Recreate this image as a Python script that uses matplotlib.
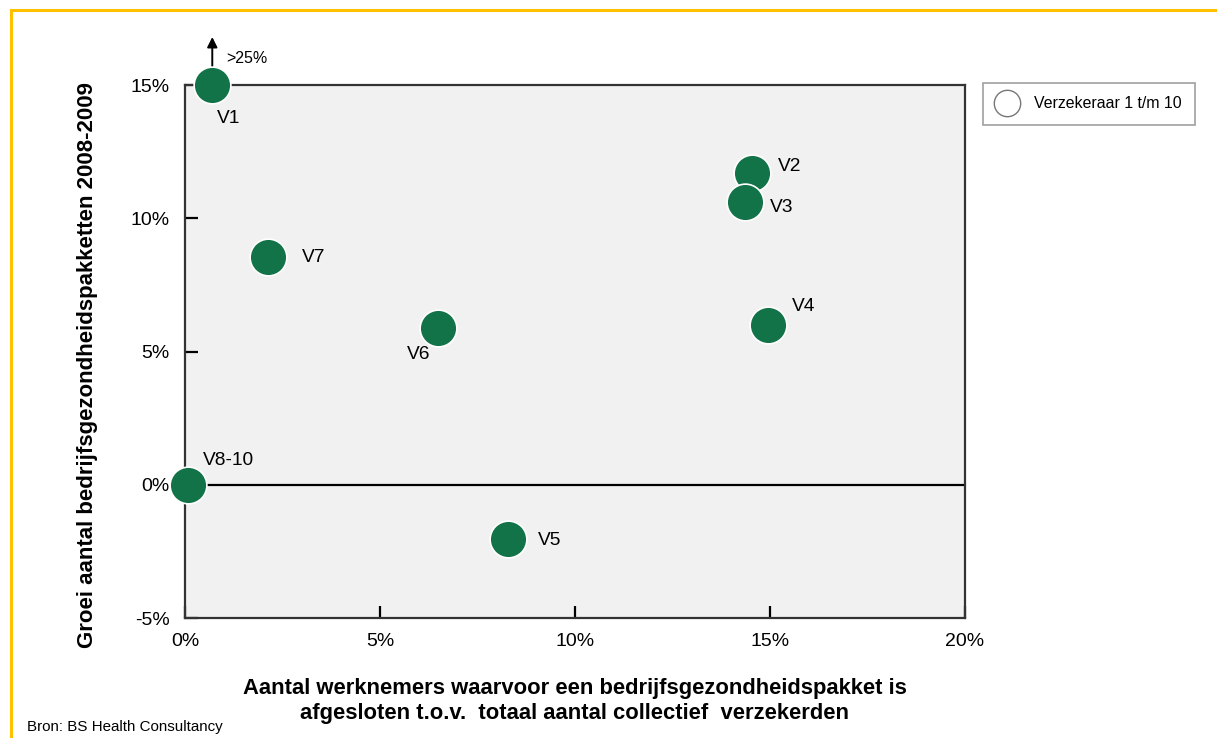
import matplotlib
matplotlib.use('Agg')
import matplotlib.pyplot as plt
from matplotlib.lines import Line2D
from matplotlib.ticker import FuncFormatter

plt.rcParams['font.family'] = ['Liberation Sans', 'DejaVu Sans']

# aandeel werknemers met pakket (%) en groei 2008-2009 (%)
labels = ['V1', 'V2', 'V3', 'V4', 'V5', 'V6', 'V7', 'V8-10']
aandeel = [0.7, 14.55, 14.35, 14.95, 8.28, 6.5, 2.13, 0.08]
groei = [15.0, 11.7, 10.6, 6.0, -2.05, 5.9, 8.55, 0.0]

# label offsets (px) t.o.v. het punt, plus uitlijning
offsets = {
    'V1': (16, -33, 'center'),
    'V2': (26, 6, 'left'),
    'V3': (25, -5, 'left'),
    'V4': (24, 18, 'left'),
    'V5': (30, -1, 'left'),
    'V6': (-8, -27, 'right'),
    'V7': (34, -1, 'left'),
    'V8-10': (15, 24, 'left'),
}

groen = '#137348'

fig = plt.figure(figsize=(12.17, 7.38), dpi=100)
ax = fig.add_axes([0.1520, 0.1626, 0.6409, 0.7222])
ax.set_facecolor('#f1f1f1')

ax.axhline(0, color='black', lw=1.6, zorder=1)
ax.scatter(aandeel, groei, s=700, color=groen, edgecolor='white',
           linewidth=1.2, zorder=3, clip_on=False)

px = 0.72  # pixels -> points
for lab, x, y in zip(labels, aandeel, groei):
    dx, dy, ha = offsets[lab]
    ax.annotate(lab, (x, y), xytext=(dx * px, dy * px), textcoords='offset points',
                ha=ha, va='center', fontsize=13.8, zorder=4)

# pijl boven V1: waarde ligt boven de 25%
ax.annotate('', xy=(aandeel[0], groei[0]), xytext=(0, 48 * px),
            textcoords='offset points', zorder=2,
            arrowprops=dict(arrowstyle='<|-', color='black', lw=1.4,
                            mutation_scale=15, shrinkA=0, shrinkB=0))
ax.annotate('>25%', (aandeel[0], groei[0]), xytext=(14 * px, 27 * px),
            textcoords='offset points', ha='left', va='center', fontsize=11.5)

ax.set_xlim(0, 20)
ax.set_ylim(-5, 15)
ax.set_xticks([0, 5, 10, 15, 20])
ax.set_yticks([-5, 0, 5, 10, 15])
pct = FuncFormatter(lambda v, _: f'{v:.0f}%')
ax.xaxis.set_major_formatter(pct)
ax.yaxis.set_major_formatter(pct)
ax.tick_params(direction='in', length=9, width=1.6, color='black',
               labelsize=14, top=False, right=False)
ax.tick_params(axis='x', pad=11)
ax.tick_params(axis='y', pad=11)
for s in ax.spines.values():
    s.set_color('#333333')
    s.set_linewidth(1.6)

# asteksten
fig.text(88 / 1217, 0.5054, 'Groei aantal bedrijfsgezondheidspakketten 2008-2009',
         rotation=90, ha='center', va='center', fontsize=16, fontweight='bold')
fig.text(575 / 1217, 1 - 701 / 738,
         'Aantal werknemers waarvoor een bedrijfsgezondheidspakket is\n'
         'afgesloten t.o.v.  totaal aantal collectief  verzekerden',
         ha='center', va='center', fontsize=15.8, fontweight='bold', linespacing=1.3)
fig.text(27 / 1217, 1 - 727 / 738, 'Bron: BS Health Consultancy',
         ha='left', va='center', fontsize=10.9)

# legenda
handle = Line2D([], [], marker='o', linestyle='none', markersize=19,
                markerfacecolor='white', markeredgecolor='#777777', markeredgewidth=1)
leg = fig.legend([handle], ['Verzekeraar 1 t/m 10'], loc='upper left',
                 bbox_to_anchor=(983 / 1217, 1 - 83 / 738), fontsize=11.4,
                 fancybox=False, edgecolor='#888888', borderpad=0.85,
                 handlelength=1.3, handletextpad=1.05, borderaxespad=0)
leg.get_frame().set_linewidth(1.2)

# gele rand
fig.add_artist(Line2D([11 / 1217, 11 / 1217], [0, 1 - 10 / 738],
                      color='#FFC000', lw=2.2, transform=fig.transFigure))
fig.add_artist(Line2D([11 / 1217, 1], [1 - 10 / 738, 1 - 10 / 738],
                      color='#FFC000', lw=2.2, transform=fig.transFigure))

fig.savefig('out.png', dpi=100)
